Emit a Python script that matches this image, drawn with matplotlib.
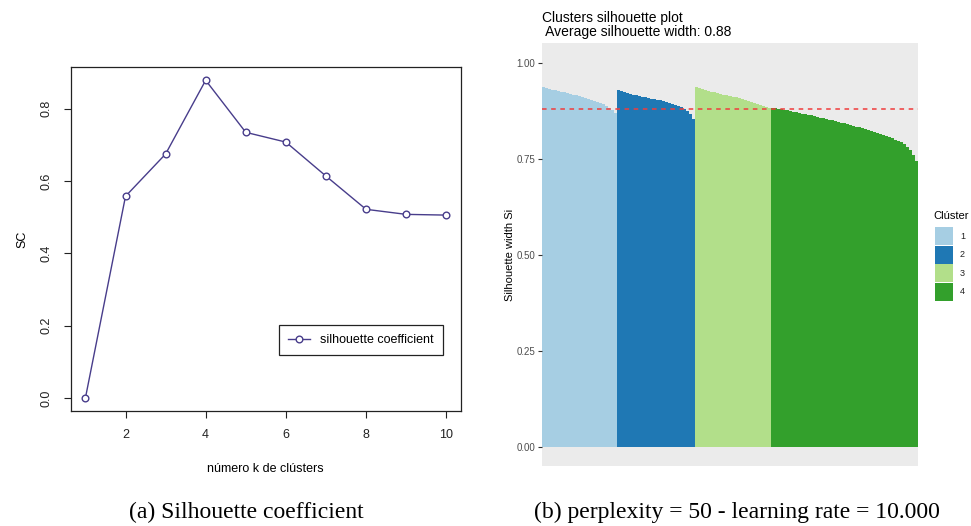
import matplotlib
matplotlib.use("Agg")
import matplotlib.pyplot as plt
import numpy as np

# silhouette coefficient for each k
k_values = [1, 2, 3, 4, 5, 6, 7, 8, 9, 10]
sc_values = [0.0, 0.558, 0.675, 0.879, 0.735, 0.708, 0.614, 0.522, 0.508, 0.506]

# per-sample silhouette widths, sorted within each cluster
sil_c1 = [0.937, 0.935, 0.933, 0.931, 0.929, 0.928, 0.926, 0.924, 0.922, 0.920,
          0.918, 0.916, 0.914, 0.912, 0.910, 0.907, 0.905, 0.902, 0.899, 0.896,
          0.893, 0.889, 0.884, 0.878, 0.869]
sil_c2 = [0.930, 0.928, 0.925, 0.922, 0.920, 0.918, 0.916, 0.914, 0.912, 0.911,
          0.909, 0.908, 0.906, 0.905, 0.903, 0.901, 0.899, 0.897, 0.894, 0.891,
          0.888, 0.885, 0.881, 0.876, 0.868, 0.855]
sil_c3 = [0.937, 0.935, 0.932, 0.930, 0.928, 0.926, 0.924, 0.922, 0.920, 0.918,
          0.917, 0.915, 0.913, 0.911, 0.909, 0.907, 0.905, 0.902, 0.900, 0.897,
          0.894, 0.891, 0.889, 0.886, 0.884]
sil_c4 = [0.884, 0.883, 0.881, 0.880, 0.878, 0.877, 0.875, 0.873, 0.872, 0.870,
          0.868, 0.867, 0.865, 0.864, 0.862, 0.860, 0.858, 0.857, 0.855, 0.853,
          0.851, 0.849, 0.847, 0.845, 0.843, 0.841, 0.839, 0.837, 0.835, 0.833,
          0.831, 0.829, 0.826, 0.824, 0.822, 0.819, 0.816, 0.813, 0.810, 0.807,
          0.804, 0.801, 0.798, 0.794, 0.789, 0.782, 0.773, 0.761, 0.746]
clusters = ["1", "2", "3", "4"]
cluster_colors = ["#A6CEE3", "#1F78B4", "#B2DF8A", "#33A02C"]
avg_width = 0.88

plt.rcParams["font.family"] = ["Liberation Sans", "DejaVu Sans"]

fig = plt.figure(figsize=(9.71, 5.26), dpi=100)

# ---- (a) silhouette coefficient vs k ----
ax1 = fig.add_axes([0.0731, 0.2192, 0.4013, 0.6529])
line_col = "#483D8B"
ax1.plot(k_values, sc_values, color=line_col, lw=1.0, marker="o", ms=4.8,
         mfc="white", mec=line_col, mew=1.0, label="silhouette coefficient")
ax1.set_xlim(0.64, 10.36)
ax1.set_ylim(-0.0352, 0.915)
ax1.set_xticks([2, 4, 6, 8, 10])
ax1.set_yticks([0.0, 0.2, 0.4, 0.6, 0.8])
ax1.set_yticklabels(["0.0", "0.2", "0.4", "0.6", "0.8"], rotation=90, va="center")
ax1.tick_params(labelsize=9, length=5, width=0.8, colors="#222222", pad=8)
for s in ax1.spines.values():
    s.set_linewidth(0.9)
    s.set_color("#222222")
ax1.set_xlabel("número k de clústers", fontsize=9, labelpad=16)
ax1.set_ylabel("SC", fontsize=9, labelpad=9)
leg = ax1.legend(loc="lower right", bbox_to_anchor=(0.96, 0.155), fontsize=9,
                 fancybox=False, edgecolor="#222222", framealpha=1,
                 handlelength=1.8, handletextpad=0.8, borderpad=0.7,
                 borderaxespad=0.2)
leg.get_frame().set_linewidth(0.9)

# ---- (b) silhouette plot ----
ax2 = fig.add_axes([0.5582, 0.1141, 0.3872, 0.8036])
ax2.set_facecolor("#EBEBEB")
start = 1
for vals, col in zip([sil_c1, sil_c2, sil_c3, sil_c4], cluster_colors):
    xs = np.arange(start, start + len(vals))
    ax2.bar(xs, vals, width=1.0, color=col, edgecolor="none")
    start += len(vals)
n_total = start - 1
ax2.axhline(avg_width, color="#F03C3C", ls=(0, (3, 3)), lw=1.1)
ax2.set_xlim(0.5, n_total + 0.5)
ax2.set_ylim(-0.05, 1.052)
ax2.set_xticks([])
ax2.set_yticks([0.0, 0.25, 0.5, 0.75, 1.0])
ax2.set_yticklabels(["0.00", "0.25", "0.50", "0.75", "1.00"])
ax2.tick_params(axis="y", labelsize=7, labelcolor="#4D4D4D", length=3,
                width=0.8, color="#333333", pad=2)
for s in ax2.spines.values():
    s.set_visible(False)
ax2.set_ylabel("Silhouette width Si", fontsize=8, labelpad=1)
ax2.set_title("Clusters silhouette plot\n Average silhouette width: 0.88",
              loc="left", fontsize=10, pad=5, linespacing=1.0)

# legend for clusters, drawn by hand near the right edge
fig.text(933 / 971, 1 - 216 / 526, "Clúster", fontsize=8, va="center", ha="left")
for i, (lab, col) in enumerate(zip(clusters, cluster_colors)):
    y_top = 227 + i * 18.5
    fig.patches.append(plt.Rectangle((935 / 971, 1 - (y_top + 18) / 526),
                                     18 / 971, 18 / 526, transform=fig.transFigure,
                                     facecolor=col, edgecolor="none"))
    fig.text(960 / 971, 1 - (y_top + 9) / 526, lab, fontsize=6.5, va="center",
             ha="left", color="#222222")

# captions
cap_font = ["Liberation Serif", "DejaVu Serif"]
fig.text(246 / 971, 1 - 512 / 526, "(a) Silhouette coefficient", fontsize=17,
         ha="center", va="center", family=cap_font)
fig.text(737 / 971, 1 - 512 / 526, "(b) perplexity = 50 - learning rate = 10.000",
         fontsize=17, ha="center", va="center", family=cap_font)

fig.savefig("out.png", dpi=100)
